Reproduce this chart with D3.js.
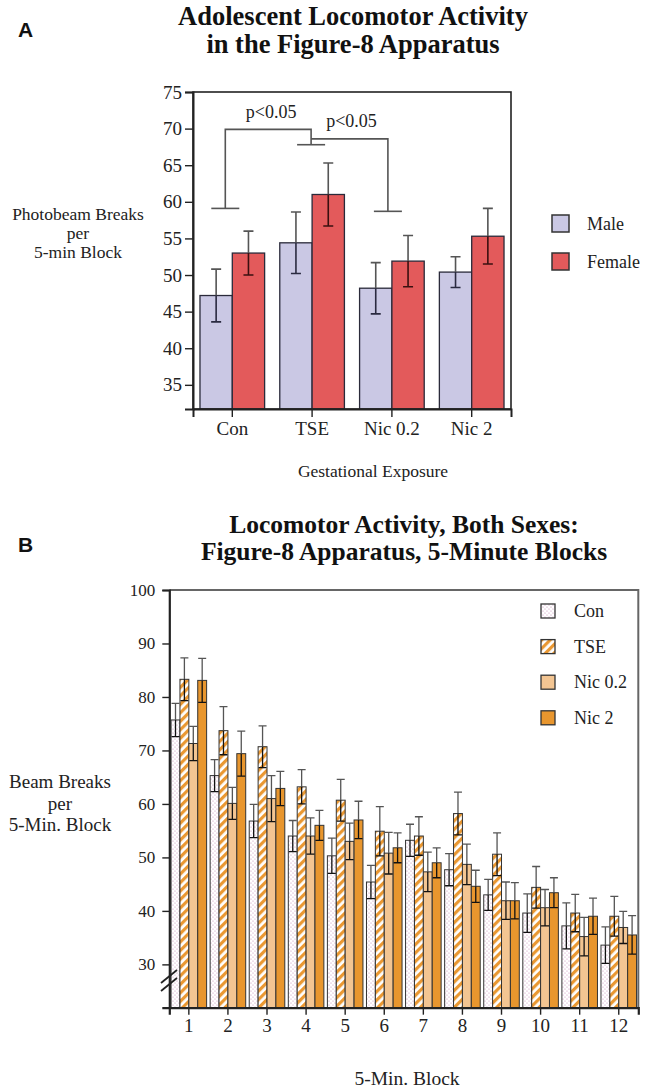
<!DOCTYPE html>
<html><head><meta charset="utf-8">
<script src="https://cdn.jsdelivr.net/npm/d3@7"></script>
<style>body{margin:0;background:#fff}svg{display:block}</style>
</head><body>
<svg id="c" width="646" height="1091"></svg>
<script>
// ---------- Panel A data ----------
const titleA = ["Adolescent Locomotor Activity", "in the Figure-8 Apparatus"];
const groupsA = ["Con", "TSE", "Nic 0.2", "Nic 2"];
const sexes = ["Male", "Female"];
const maleMean = [47.2, 54.4, 48.2, 50.4];
const maleErr = [3.6, 4.2, 3.5, 2.1];
const femaleMean = [53.0, 61.0, 51.9, 55.3];
const femaleErr = [3.0, 4.3, 3.5, 3.8];
const yTicksA = [35, 40, 45, 50, 55, 60, 65, 70, 75];
const yLabelA = ["Photobeam Breaks", "per", "5-min Block"];
const xLabelA = "Gestational Exposure";
const sigText = ["p<0.05", "p<0.05"];
const sigTop = [69.9, 68.6];
const sigLegEnd = [59.1, 67.8, 58.7]; // Con, TSE, Nic 0.2

// ---------- Panel B data ----------
const titleB = ["Locomotor Activity, Both Sexes:", "Figure-8 Apparatus, 5-Minute Blocks"];
const blocks = ["1","2","3","4","5","6","7","8","9","10","11","12"];
const seriesB = ["Con", "TSE", "Nic 0.2", "Nic 2"];
const conMean  = [75.7, 65.3, 56.8, 54.0, 50.3, 45.4, 53.2, 47.7, 43.0, 39.6, 37.2, 33.6];
const conErr   = [3.1, 3.0, 3.1, 2.9, 3.3, 3.1, 3.0, 3.0, 2.9, 3.6, 4.3, 3.4];
const tseMean  = [83.3, 73.7, 70.7, 63.2, 60.7, 54.9, 54.0, 58.2, 50.6, 44.4, 39.6, 39.0];
const tseErr   = [4.0, 4.5, 3.9, 3.2, 3.9, 4.6, 3.6, 4.0, 4.0, 3.9, 3.5, 3.7];
const nic02Mean = [71.3, 60.1, 61.0, 54.0, 53.0, 50.8, 47.3, 48.7, 41.9, 40.6, 35.2, 36.9];
const nic02Err  = [3.2, 3.0, 4.3, 3.4, 3.4, 3.9, 3.7, 3.8, 3.5, 3.4, 3.6, 3.0];
const nic2Mean = [83.1, 69.4, 62.9, 56.0, 57.0, 51.8, 49.0, 44.6, 41.9, 43.4, 39.0, 35.5];
const nic2Err  = [4.1, 4.2, 3.2, 2.8, 3.5, 2.8, 2.8, 3.0, 3.4, 2.8, 3.4, 3.6];
const yTicksB = [30, 40, 50, 60, 70, 80, 90, 100];
const yLabelB = ["Beam Breaks", "per", "5-Min. Block"];
const xLabelB = "5-Min. Block";

// ---------- setup ----------
const serif = "'Liberation Serif','Times New Roman',Times,serif";
const sans = "'Liberation Sans',Arial,Helvetica,sans-serif";
const svg = d3.select("#c");
const defs = svg.append("defs");

const pDots = defs.append("pattern").attr("id", "dots").attr("patternUnits", "userSpaceOnUse")
  .attr("width", 4).attr("height", 4);
pDots.append("rect").attr("width", 4).attr("height", 4).attr("fill", "#fff");
pDots.append("circle").attr("cx", 1).attr("cy", 1).attr("r", 0.6).attr("fill", "#c98bb8");
pDots.append("circle").attr("cx", 3).attr("cy", 3).attr("r", 0.6).attr("fill", "#c98bb8");
const pStr = defs.append("pattern").attr("id", "stripes").attr("patternUnits", "userSpaceOnUse")
  .attr("width", 6).attr("height", 6).attr("patternTransform", "rotate(45)");
pStr.append("rect").attr("width", 6).attr("height", 6).attr("fill", "#fff");
pStr.append("rect").attr("width", 3.2).attr("height", 6).attr("fill", "#ea9832");

const colA = { Male: "#cac8e4", Female: "#e35a5b" };
const colB = { "Con": "url(#dots)", "TSE": "url(#stripes)", "Nic 0.2": "#f3c592", "Nic 2": "#e8962e" };

// ================= PANEL A =================
svg.append("text").attr("x", 18).attr("y", 37).attr("font-family", sans).attr("font-weight", "bold")
  .attr("font-size", 21).attr("fill", "#111").text("A");
titleA.forEach((t, i) => svg.append("text").attr("font-family", serif).attr("font-weight", "bold")
  .attr("font-size", 26.5).attr("text-anchor", "middle").attr("fill", "#111")
  .attr("x", 353).attr("y", 25 + i * 27.5).text(t));

const xA = d3.scaleBand().domain(groupsA).range([193, 511]).paddingInner(0.19).paddingOuter(0.0875);
const xAs = d3.scaleBand().domain(sexes).range([0, xA.bandwidth()]);
const yA = d3.scaleLinear().domain([31.7, 75]).range([409, 92]);

const gA = svg.append("g");
const dataA = [];
groupsA.forEach((g, i) => {
  dataA.push({ g, s: "Male", m: maleMean[i], e: maleErr[i] });
  dataA.push({ g, s: "Female", m: femaleMean[i], e: femaleErr[i] });
});
gA.selectAll("rect.bar").data(dataA).enter().append("rect").attr("class", "bar")
  .attr("x", d => xA(d.g) + xAs(d.s)).attr("width", xAs.bandwidth())
  .attr("y", d => yA(d.m)).attr("height", d => yA.range()[0] - yA(d.m))
  .attr("fill", d => colA[d.s]).attr("stroke", "#2a2a3a").attr("stroke-width", 1.3);

const capA = 10;
dataA.forEach(d => {
  const cx = xA(d.g) + xAs(d.s) + xAs.bandwidth() / 2;
  const up = yA(d.m + d.e), lo = yA(d.m - d.e), top = yA(d.m);
  gA.append("path").attr("d", `M${cx},${top}V${up}M${cx - capA / 2},${up}H${cx + capA / 2}`)
    .attr("stroke", "#555").attr("stroke-width", 1.6).attr("fill", "none");
  gA.append("path").attr("d", `M${cx},${top}V${lo}M${cx - capA / 2},${lo}H${cx + capA / 2}`)
    .attr("stroke", d.s === "Male" ? "#2a2a40" : "#3a1010").attr("stroke-width", 1.6).attr("fill", "none");
});

gA.append("rect").attr("x", 193).attr("y", 92).attr("width", 318).attr("height", 317)
  .attr("fill", "none").attr("stroke", "#222").attr("stroke-width", 1.6);

const axLA = gA.append("g").attr("transform", "translate(193,0)")
  .call(d3.axisLeft(yA).tickValues(yTicksA).tickSize(8).tickPadding(3).tickFormat(d3.format("d")));
const axBA = gA.append("g").attr("transform", "translate(0,409)")
  .call(d3.axisBottom(xA).tickSize(8).tickPadding(5));
[axLA, axBA].forEach(a => {
  a.select(".domain").attr("stroke", "#222").attr("stroke-width", 2);
  a.selectAll(".tick line").attr("stroke", "#222").attr("stroke-width", 1.4);
  a.selectAll("text").attr("font-family", serif).attr("font-size", 19).attr("fill", "#222");
});

const legX = [xA("Con") + xA.bandwidth() / 2 - 7, xA("TSE") + xA.bandwidth() / 2 - 1, xA("Nic 0.2") + xA.bandwidth() / 2 - 4];
const br = gA.append("g").attr("stroke", "#555").attr("stroke-width", 1.6).attr("fill", "none");
br.append("path").attr("d", `M${legX[0]},${yA(sigLegEnd[0])}V${yA(sigTop[0])}H${legX[1]}V${yA(sigLegEnd[1])}`);
br.append("path").attr("d", `M${legX[1]},${yA(sigTop[1])}H${legX[2]}V${yA(sigLegEnd[2])}`);
legX.forEach((x, i) => br.append("path").attr("d", `M${x - 14},${yA(sigLegEnd[i])}H${x + 14}`));
gA.append("text").attr("x", (legX[0] + legX[1]) / 2 + 3).attr("y", 118).attr("text-anchor", "middle")
  .attr("font-family", serif).attr("font-size", 18).attr("fill", "#222").text(sigText[0]);
gA.append("text").attr("x", (legX[1] + legX[2]) / 2 + 2).attr("y", 127).attr("text-anchor", "middle")
  .attr("font-family", serif).attr("font-size", 18).attr("fill", "#222").text(sigText[1]);

const ylA = svg.append("text").attr("font-family", serif).attr("font-size", 17.5).attr("text-anchor", "middle").attr("fill", "#222");
yLabelA.forEach((t, i) => ylA.append("tspan").attr("x", 78).attr("y", 220 + i * 19).text(t));
svg.append("text").attr("x", 373).attr("y", 477).attr("text-anchor", "middle").attr("font-family", serif)
  .attr("font-size", 17.5).attr("fill", "#222").text(xLabelA);

const lgA = svg.append("g");
sexes.forEach((s, i) => {
  const cy = 223.5 + i * 38;
  lgA.append("rect").attr("x", 552).attr("y", cy - 8.5).attr("width", 17).attr("height", 17)
    .attr("fill", colA[s]).attr("stroke", "#333").attr("stroke-width", 1.5);
  lgA.append("text").attr("x", 587).attr("y", cy + 6).attr("font-family", serif).attr("font-size", 18)
    .attr("fill", "#222").text(s);
});

// ================= PANEL B =================
svg.append("text").attr("x", 18).attr("y", 552).attr("font-family", sans).attr("font-weight", "bold")
  .attr("font-size", 21).attr("fill", "#111").text("B");
titleB.forEach((t, i) => svg.append("text").attr("font-family", serif).attr("font-weight", "bold")
  .attr("font-size", 25.5).attr("text-anchor", "middle").attr("fill", "#111")
  .attr("x", 404).attr("y", 533 + i * 27).text(t));

const xB = d3.scaleBand().domain(blocks).range([169.3, 638.3]).paddingInner(0.09).paddingOuter(0.045);
const xBs = d3.scaleBand().domain(seriesB).range([0, xB.bandwidth()]);
const yB = d3.scaleLinear().domain([21.9, 100]).range([1007.7, 590]);

const means = [conMean, tseMean, nic02Mean, nic2Mean];
const errs = [conErr, tseErr, nic02Err, nic2Err];
const dataB = [];
blocks.forEach((b, i) => seriesB.forEach((s, j) => dataB.push({ b, s, m: means[j][i], e: errs[j][i] })));

const gB = svg.append("g");
gB.selectAll("rect.bar").data(dataB).enter().append("rect").attr("class", "bar")
  .attr("x", d => xB(d.b) + xBs(d.s)).attr("width", xBs.bandwidth())
  .attr("y", d => yB(d.m)).attr("height", d => yB.range()[0] - yB(d.m))
  .attr("fill", d => colB[d.s]).attr("stroke", "#333").attr("stroke-width", 1);

dataB.forEach(d => {
  const cx = xB(d.b) + xBs(d.s) + xBs.bandwidth() / 2;
  const up = yB(d.m + d.e), lo = yB(d.m - d.e), top = yB(d.m);
  gB.append("path").attr("d", `M${cx},${top}V${up}M${cx - 4},${up}H${cx + 4}`)
    .attr("stroke", "#555").attr("stroke-width", 1.3).attr("fill", "none");
  gB.append("path").attr("d", `M${cx},${top}V${lo}M${cx - 4},${lo}H${cx + 4}`)
    .attr("stroke", "#111").attr("stroke-width", 1.3).attr("fill", "none");
});

gB.append("path").attr("d", "M169.3,590H638.3V1007.7").attr("fill", "none").attr("stroke", "#666").attr("stroke-width", 2);
const axLB = gB.append("g").attr("transform", "translate(169.3,0)")
  .call(d3.axisLeft(yB).tickValues(yTicksB).tickSize(7).tickPadding(7).tickFormat(d3.format("d")));
const axBB = gB.append("g").attr("transform", "translate(0,1007.7)")
  .call(d3.axisBottom(xB).tickSize(7).tickPadding(4));
[axLB, axBB].forEach(a => {
  a.select(".domain").attr("stroke", "#222").attr("stroke-width", 2.2);
  a.selectAll(".tick line").attr("stroke", "#222").attr("stroke-width", 1.4);
  a.selectAll("text").attr("font-family", serif).attr("fill", "#222");
});
axLB.selectAll("text").attr("font-size", 17);
axBB.selectAll("text").attr("font-size", 19);

const brk = gB.append("g").attr("stroke", "#222").attr("stroke-width", 1.8);
brk.append("line").attr("x1", 161).attr("y1", 983).attr("x2", 177).attr("y2", 970);
brk.append("line").attr("x1", 161).attr("y1", 991).attr("x2", 177).attr("y2", 978);

const ylB = svg.append("text").attr("font-family", serif).attr("font-size", 19).attr("text-anchor", "middle").attr("fill", "#222");
yLabelB.forEach((t, i) => ylB.append("tspan").attr("x", 60).attr("y", 788 + i * 21.5).text(t));
svg.append("text").attr("x", 407).attr("y", 1085).attr("text-anchor", "middle").attr("font-family", serif)
  .attr("font-size", 19.5).attr("fill", "#222").text(xLabelB);

const lgB = svg.append("g");
seriesB.forEach((s, i) => {
  const cy = 611 + i * 35.6;
  lgB.append("rect").attr("x", 541).attr("y", cy - 7).attr("width", 14).attr("height", 14)
    .attr("fill", colB[s]).attr("stroke", "#333").attr("stroke-width", 1.3);
  lgB.append("text").attr("x", 574).attr("y", cy + 6).attr("font-family", serif).attr("font-size", 18)
    .attr("fill", "#222").text(s);
});
</script>
</body></html>
